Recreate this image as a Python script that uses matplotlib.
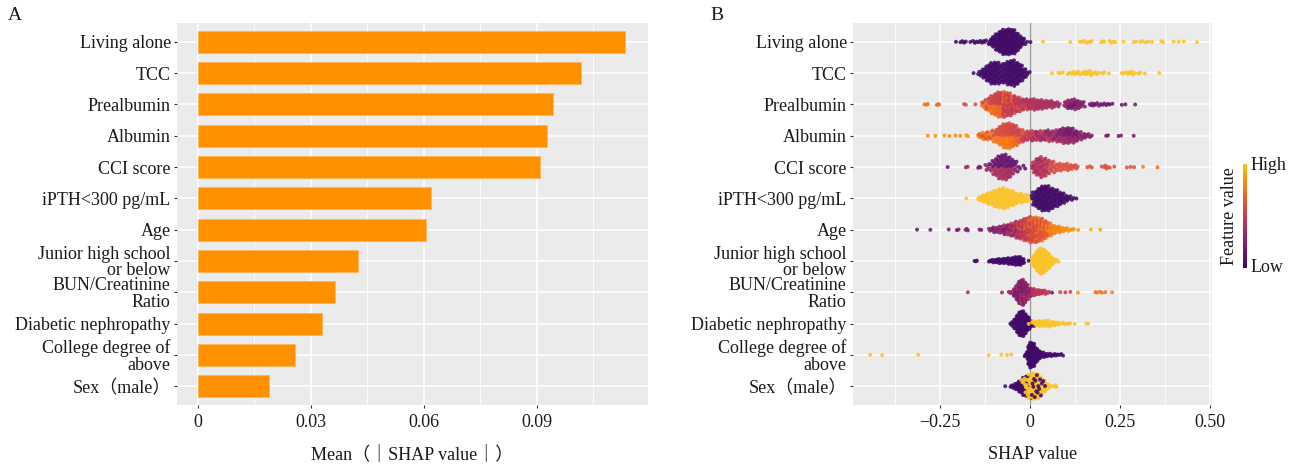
import numpy as np
import matplotlib
matplotlib.use("Agg")
import matplotlib.pyplot as plt
from matplotlib.colors import ListedColormap
from matplotlib.ticker import FixedLocator

# ---------------------------------------------------------------- data
features = ["Living alone", "TCC", "Prealbumin", "Albumin", "CCI score",
            "iPTH<300 pg/mL", "Age", "Junior high school\nor below",
            "BUN/Creatinine\nRatio", "Diabetic nephropathy",
            "College degree of\nabove", "Sex（male）"]

mean_abs_shap = [0.1135, 0.1016, 0.0943, 0.0926, 0.0908, 0.0620,
                 0.0606, 0.0425, 0.0364, 0.0329, 0.0257, 0.0190]

bar_ticks = [0, 0.03, 0.06, 0.09]
bar_tick_labels = ["0", "0.03", "0.06", "0.09"]
swarm_ticks = [-0.25, 0, 0.25, 0.50]
swarm_tick_labels = ["\u22120.25", "0", "0.25", "0.50"]

# SHAP values per feature, binned at 0.01: (SHAP value, number of patients, scaled feature value)
living_alone = [(-0.205, 1, 0), (-0.19, 2, 0), (-0.18, 2, 0), (-0.165, 1, 0), (-0.155, 2, 0),
                (-0.145, 2, 0), (-0.135, 2, 0), (-0.125, 3, 0), (-0.11, 5, 0), (-0.10, 10, 0),
                (-0.09, 14, 0), (-0.08, 18, 0), (-0.07, 20, 0), (-0.06, 20, 0), (-0.05, 20, 0),
                (-0.04, 18, 0), (-0.03, 12, 0), (-0.02, 7, 0), (-0.01, 2, 0), (0.002, 1, 0),
                (0.037, 1, 1), (0.113, 1, 1), (0.139, 1, 1), (0.148, 2, 1), (0.157, 1, 1),
                (0.165, 2, 1), (0.172, 1, 1), (0.201, 2, 1), (0.207, 1, 1), (0.224, 2, 1),
                (0.233, 1, 1), (0.238, 1, 1), (0.261, 1, 1), (0.289, 1, 1), (0.296, 1, 1),
                (0.310, 2, 1), (0.321, 1, 1), (0.329, 1, 1), (0.340, 1, 1), (0.368, 2, 1),
                (0.400, 1, 1), (0.414, 1, 1), (0.428, 1, 1), (0.465, 1, 1)]

tcc = [(-0.156, 1, 0), (-0.14, 3, 0), (-0.13, 6, 0), (-0.12, 10, 0), (-0.11, 14, 0),
       (-0.10, 16, 0), (-0.09, 15, 0), (-0.08, 12, 0), (-0.07, 13, 0), (-0.06, 16, 0),
       (-0.05, 18, 0), (-0.04, 17, 0), (-0.03, 14, 0), (-0.02, 10, 0), (-0.01, 5, 0),
       (0.0, 1, 0), (0.062, 1, 1), (0.082, 2, 1), (0.092, 1, 1), (0.108, 2, 1),
       (0.118, 2, 1), (0.128, 3, 1), (0.138, 2, 1), (0.15, 3, 1), (0.16, 3, 1),
       (0.17, 3, 1), (0.18, 2, 1), (0.19, 2, 1), (0.205, 2, 1), (0.22, 1, 1),
       (0.258, 2, 1), (0.27, 2, 1), (0.28, 3, 1), (0.29, 2, 1), (0.305, 2, 1),
       (0.32, 1, 1), (0.36, 1, 1)]

prealbumin = [(-0.29, 2, 0.76), (-0.283, 1, 0.74), (-0.255, 3, 0.72), (-0.18, 2, 0.6),
              (-0.151, 1, 0.6), (-0.13, 2, 0.74), (-0.13, 2, 0.58), (-0.12, 5, 0.74),
              (-0.12, 3, 0.56), (-0.11, 6, 0.72), (-0.11, 6, 0.55), (-0.10, 8, 0.72),
              (-0.10, 8, 0.54), (-0.09, 9, 0.7), (-0.09, 9, 0.52), (-0.08, 10, 0.7),
              (-0.08, 10, 0.5), (-0.07, 9, 0.68), (-0.07, 11, 0.5), (-0.06, 8, 0.66),
              (-0.06, 10, 0.48), (-0.05, 7, 0.64), (-0.05, 8, 0.46), (-0.04, 5, 0.6),
              (-0.04, 7, 0.45), (-0.03, 4, 0.6), (-0.03, 6, 0.44), (-0.02, 3, 0.55),
              (-0.02, 5, 0.42), (-0.01, 3, 0.5), (-0.01, 4, 0.4), (0.00, 8, 0.42),
              (0.01, 8, 0.42), (0.02, 8, 0.4), (0.03, 7, 0.4), (0.04, 6, 0.38),
              (0.05, 6, 0.4), (0.065, 1, 0.85), (0.06, 5, 0.36), (0.07, 4, 0.36),
              (0.08, 3, 0.34), (0.10, 5, 0.3), (0.11, 4, 0.3), (0.11, 4, 0.18),
              (0.12, 5, 0.3), (0.12, 4, 0.18), (0.13, 4, 0.3), (0.13, 4, 0.2),
              (0.14, 6, 0.26), (0.15, 3, 0.24), (0.17, 3, 0.2), (0.18, 3, 0.16),
              (0.19, 2, 0.2), (0.20, 2, 0.15), (0.21, 2, 0.18), (0.22, 2, 0.14),
              (0.23, 1, 0.16), (0.256, 1, 0.15), (0.266, 1, 0.15), (0.293, 1, 0.2)]

albumin = [(-0.283, 1, 0.85), (-0.262, 1, 0.85), (-0.237, 1, 0.85), (-0.223, 1, 0.8),
           (-0.206, 1, 0.8), (-0.193, 1, 0.8), (-0.174, 2, 0.88), (-0.14, 3, 0.78),
           (-0.14, 1, 0.6), (-0.13, 4, 0.8), (-0.13, 2, 0.62), (-0.12, 4, 0.76),
           (-0.12, 2, 0.6), (-0.11, 3, 0.78), (-0.11, 2, 0.6), (-0.10, 3, 0.76),
           (-0.10, 3, 0.6), (-0.09, 5, 0.76), (-0.09, 5, 0.6), (-0.08, 7, 0.76),
           (-0.08, 7, 0.58), (-0.07, 9, 0.76), (-0.07, 9, 0.58), (-0.06, 10, 0.78),
           (-0.06, 10, 0.58), (-0.05, 9, 0.74), (-0.05, 9, 0.56), (-0.04, 7, 0.7),
           (-0.04, 7, 0.55), (-0.03, 5, 0.66), (-0.03, 5, 0.52), (-0.02, 3, 0.6),
           (-0.02, 4, 0.5), (-0.01, 3, 0.55), (-0.01, 3, 0.45), (0.00, 6, 0.48),
           (0.01, 4, 0.5), (0.01, 3, 0.36), (0.02, 4, 0.46), (0.02, 3, 0.34),
           (0.03, 3, 0.46), (0.03, 3, 0.34), (0.04, 4, 0.44), (0.04, 3, 0.32),
           (0.05, 4, 0.44), (0.05, 4, 0.3), (0.06, 4, 0.42), (0.06, 3, 0.3),
           (0.07, 4, 0.4), (0.07, 3, 0.28), (0.08, 4, 0.36), (0.08, 4, 0.24),
           (0.09, 5, 0.36), (0.09, 5, 0.22), (0.10, 6, 0.34), (0.10, 6, 0.2),
           (0.11, 6, 0.32), (0.11, 6, 0.18), (0.12, 5, 0.3), (0.12, 5, 0.2),
           (0.13, 4, 0.3), (0.13, 4, 0.18), (0.14, 5, 0.28), (0.15, 4, 0.26),
           (0.16, 3, 0.24), (0.17, 2, 0.22), (0.215, 2, 0.18), (0.247, 1, 0.15),
           (0.254, 1, 0.25), (0.289, 1, 0.18)]

cci_score = [(-0.228, 1, 0.15), (-0.175, 2, 0.35), (-0.14, 3, 0.22), (-0.12, 3, 0.3),
             (-0.11, 2, 0.35), (-0.11, 2, 0.15), (-0.10, 4, 0.38), (-0.10, 4, 0.14),
             (-0.09, 6, 0.4), (-0.09, 6, 0.15), (-0.08, 8, 0.4), (-0.08, 8, 0.14),
             (-0.07, 8, 0.38), (-0.07, 8, 0.15), (-0.06, 7, 0.36), (-0.06, 7, 0.14),
             (-0.05, 5, 0.36), (-0.05, 5, 0.12), (-0.04, 3, 0.3), (-0.04, 3, 0.12),
             (-0.03, 3, 0.2), (-0.015, 2, 0.1), (0.01, 4, 0.46), (0.01, 2, 0.3),
             (0.02, 8, 0.46), (0.02, 4, 0.34), (0.03, 9, 0.48), (0.03, 5, 0.36),
             (0.04, 8, 0.48), (0.04, 4, 0.38), (0.05, 5, 0.52), (0.05, 3, 0.4),
             (0.06, 6, 0.55), (0.07, 5, 0.56), (0.08, 4, 0.6), (0.09, 4, 0.6),
             (0.10, 4, 0.62), (0.11, 4, 0.6), (0.12, 3, 0.62), (0.13, 3, 0.6),
             (0.16, 1, 0.6), (0.17, 2, 0.62), (0.20, 1, 0.62), (0.21, 3, 0.6),
             (0.22, 2, 0.62), (0.235, 1, 0.6), (0.27, 1, 0.62), (0.28, 1, 0.62),
             (0.29, 1, 0.6), (0.315, 1, 0.8), (0.355, 1, 0.72)]

ipth = [(-0.176, 1, 1), (-0.14, 3, 1), (-0.13, 5, 1), (-0.12, 7, 1), (-0.11, 8, 1),
        (-0.10, 10, 1), (-0.09, 12, 1), (-0.08, 14, 1), (-0.07, 14, 1), (-0.06, 12, 1),
        (-0.05, 10, 1), (-0.04, 8, 1), (-0.03, 6, 1), (-0.02, 6, 1), (-0.01, 5, 1),
        (0.00, 3, 1), (0.01, 8, 0), (0.02, 12, 0), (0.03, 16, 0), (0.04, 18, 0),
        (0.05, 17, 0), (0.06, 14, 0), (0.07, 12, 0), (0.08, 10, 0), (0.09, 8, 0),
        (0.10, 5, 0), (0.11, 3, 0), (0.12, 2, 0), (0.13, 1, 0)]

age = [(-0.313, 1, 0.12), (-0.276, 1, 0.15), (-0.225, 1, 0.2), (-0.20, 2, 0.2),
       (-0.175, 3, 0.22), (-0.137, 2, 0.2), (-0.11, 3, 0.25), (-0.10, 4, 0.2),
       (-0.09, 5, 0.28), (-0.08, 6, 0.3), (-0.07, 4, 0.36), (-0.07, 3, 0.18),
       (-0.06, 5, 0.4), (-0.06, 4, 0.22), (-0.05, 6, 0.46), (-0.05, 4, 0.28),
       (-0.04, 7, 0.5), (-0.04, 5, 0.32), (-0.03, 8, 0.55), (-0.03, 6, 0.38),
       (-0.02, 9, 0.6), (-0.02, 7, 0.42), (-0.01, 10, 0.64), (-0.01, 8, 0.46),
       (0.00, 11, 0.68), (0.00, 9, 0.52), (0.01, 11, 0.7), (0.01, 9, 0.55),
       (0.02, 11, 0.72), (0.02, 9, 0.58), (0.03, 10, 0.74), (0.03, 8, 0.6),
       (0.04, 9, 0.76), (0.04, 7, 0.62), (0.05, 7, 0.78), (0.05, 5, 0.64),
       (0.06, 9, 0.78), (0.07, 6, 0.8), (0.08, 5, 0.8), (0.09, 4, 0.82),
       (0.10, 3, 0.84), (0.11, 2, 0.85), (0.12, 2, 0.85), (0.135, 1, 0.87),
       (0.17, 1, 0.95), (0.196, 1, 0.9)]

junior_high = [(-0.15, 3, 0), (-0.11, 3, 0), (-0.10, 4, 0), (-0.09, 5, 0), (-0.08, 6, 0),
               (-0.07, 6, 0), (-0.06, 7, 0), (-0.05, 8, 0), (-0.04, 10, 0), (-0.03, 12, 0),
               (-0.02, 8, 0), (-0.003, 1, 0), (0.01, 10, 1), (0.02, 25, 1), (0.03, 35, 1),
               (0.04, 30, 1), (0.05, 20, 1), (0.06, 10, 1), (0.07, 4, 1), (0.08, 1, 1)]

bun_creatinine = [(-0.172, 1, 0.4), (-0.077, 1, 0.35), (-0.058, 1, 0.3), (-0.05, 3, 0.32),
                  (-0.04, 7, 0.36), (-0.04, 5, 0.2), (-0.03, 14, 0.36), (-0.03, 11, 0.22),
                  (-0.02, 16, 0.38), (-0.02, 14, 0.22), (-0.01, 12, 0.38), (-0.01, 10, 0.24),
                  (0.00, 6, 0.4), (0.00, 4, 0.26), (0.01, 8, 0.42), (0.02, 6, 0.44),
                  (0.03, 5, 0.45), (0.04, 4, 0.46), (0.05, 3, 0.48), (0.062, 1, 0.15),
                  (0.085, 1, 0.55), (0.099, 1, 0.5), (0.113, 1, 0.55), (0.134, 1, 0.85),
                  (0.185, 2, 0.75), (0.198, 2, 0.75), (0.21, 1, 0.72), (0.229, 1, 0.78)]

diabetic_nephropathy = [(-0.05, 4, 0), (-0.04, 12, 0), (-0.03, 25, 0), (-0.02, 30, 0),
                        (-0.01, 20, 0), (0.00, 8, 0), (0.01, 2, 0), (-0.003, 1, 1),
                        (0.01, 3, 1), (0.02, 5, 1), (0.03, 6, 1), (0.04, 6, 1), (0.05, 7, 1),
                        (0.06, 5, 1), (0.07, 4, 1), (0.08, 3, 1), (0.09, 2, 1), (0.10, 2, 1),
                        (0.11, 2, 1), (0.125, 1, 1), (0.16, 2, 1)]

college_degree = [(-0.443, 1, 1), (-0.41, 1, 1), (-0.31, 1, 1), (-0.114, 1, 1),
                  (-0.079, 1, 1), (-0.063, 1, 1), (-0.051, 1, 1), (-0.01, 5, 0),
                  (0.00, 30, 0), (0.01, 28, 0), (0.02, 15, 0), (0.03, 8, 0), (0.04, 5, 0),
                  (0.05, 4, 0), (0.06, 3, 0), (0.07, 3, 0), (0.08, 2, 0), (0.09, 2, 0)]

sex_male = [(-0.068, 1, 0), (-0.05, 3, 0), (-0.04, 6, 0), (-0.03, 10, 0), (-0.02, 14, 0),
            (-0.01, 12, 0), (0.00, 8, 0), (-0.02, 3, 1), (-0.01, 8, 1), (0.00, 16, 1),
            (0.01, 20, 1), (0.02, 20, 1), (0.03, 16, 1), (0.04, 10, 1), (0.05, 5, 1),
            (0.06, 1, 1), (0.071, 3, 1), (0.01, 5, 0), (0.02, 5, 0), (0.03, 4, 0),
            (0.04, 2, 0)]

swarm_rows = [living_alone, tcc, prealbumin, albumin, cci_score, ipth, age,
              junior_high, bun_creatinine, diabetic_nephropathy, college_degree, sex_male]

# ---------------------------------------------------------------- style
SERIF = ["Liberation Serif", "Noto Sans CJK SC", "DejaVu Sans"]
plt.rcParams["font.family"] = SERIF
TXT = "#1a1a1a"
PANEL_BG = "#EBEBEB"
BAR_COLOR = "#FF9000"
cmap = ListedColormap(plt.get_cmap("inferno")(np.linspace(0.2, 0.86, 256)))

BIN = 0.01


def expand(groups):
    """Turn binned (value, count, colour) records into individual points."""
    xs, cs = [], []
    for centre, n, fv in groups:
        if n == 1:
            xs.append(centre)
        else:
            xs.extend(centre + ((np.arange(n) + 0.5) / n - 0.5) * BIN)
        cs.extend([fv] * n)
    return np.asarray(xs, float), np.asarray(cs, float)


def van_der_corput(k):
    out, denom = 0.0, 1.0
    while k:
        denom *= 2.0
        k, r = divmod(k, 2)
        out += r / denom
    return out


def quasirandom_offsets(x, width=0.42, adjust=0.5):
    """Quasirandom vertical offsets scaled by the local density of x."""
    n = len(x)
    sd = x.std(ddof=1)
    q75, q25 = np.percentile(x, [75, 25])
    spread = min(sd, (q75 - q25) / 1.34) if q75 > q25 else sd
    bw = adjust * 0.9 * spread * n ** -0.2
    dens = np.exp(-0.5 * ((x[:, None] - x[None, :]) / bw) ** 2).sum(axis=1)
    dens /= dens.max()
    ranks = np.argsort(np.argsort(x, kind="stable"), kind="stable")
    q = np.array([van_der_corput(int(r) + 1) for r in ranks])
    return (q - 0.5) * 2.0 * width * dens


def style_axes(ax, major, minor, xlim, n):
    ax.set_facecolor(PANEL_BG)
    for sp in ax.spines.values():
        sp.set_visible(False)
    ax.set_xlim(*xlim)
    ax.set_ylim(-0.6, n - 0.4)
    ax.xaxis.set_major_locator(FixedLocator(major))
    ax.xaxis.set_minor_locator(FixedLocator(minor))
    ax.grid(which="major", axis="both", color="white", linewidth=1.1)
    ax.grid(which="minor", axis="x", color="white", linewidth=0.55)
    ax.set_axisbelow(True)
    ax.tick_params(axis="both", which="major", length=2.5, width=0.8,
                   color="#333333", labelcolor=TXT, labelsize=13, pad=2)
    ax.tick_params(axis="x", which="minor", length=0)
    ax.tick_params(axis="x", pad=4)


# ---------------------------------------------------------------- figure
W, H = 1303, 466
fig = plt.figure(figsize=(W / 100, H / 100), dpi=100)
top, bottom = 23, 405
axA = fig.add_axes([177 / W, 1 - bottom / H, (648 - 177) / W, (bottom - top) / H])
axB = fig.add_axes([853 / W, 1 - bottom / H, (1212 - 853) / W, (bottom - top) / H])

n = len(features)
ypos = np.arange(n)[::-1]

# Panel A: mean |SHAP| bars
style_axes(axA, bar_ticks, [0.015, 0.045, 0.075, 0.105], (-0.0055, 0.1195), n)
axA.barh(ypos, mean_abs_shap, height=0.7, color=BAR_COLOR,
         edgecolor="#FFB45A", linewidth=0.6, zorder=2)
axA.set_xticks(bar_ticks)
axA.set_xticklabels(bar_tick_labels)
axA.set_yticks(ypos)
axA.set_yticklabels(features, linespacing=0.95, ha="right")
axA.set_xlabel("Mean（｜SHAP value｜）", fontsize=13, color=TXT, labelpad=11)

# Panel B: beeswarm of SHAP values
style_axes(axB, swarm_ticks, [-0.375, -0.125, 0.125, 0.375], (-0.491, 0.5065), n)
axB.axvline(0, color="#9a9a9a", linewidth=1.0, zorder=1)
for y0, groups in zip(ypos, swarm_rows):
    xs, cs = expand(groups)
    offs = quasirandom_offsets(xs)
    axB.scatter(xs, y0 + offs, c=cs, cmap=cmap, vmin=0, vmax=1, s=8,
                linewidths=0, alpha=0.88, zorder=3)
axB.set_xticks(swarm_ticks)
axB.set_xticklabels(swarm_tick_labels)
axB.set_yticks(ypos)
axB.set_yticklabels(features, linespacing=0.95, ha="right")
axB.set_xlabel("SHAP value", fontsize=13, color=TXT, labelpad=11)

# colour key
cax = fig.add_axes([1243 / W, 1 - 268 / H, 4 / W, (268 - 164) / H])
cax.imshow(np.linspace(0, 1, 256)[:, None], aspect="auto", cmap=cmap, origin="lower")
cax.set_axis_off()
fig.text(1251 / W, 1 - 166 / H, "High", fontsize=13, color=TXT, va="center", ha="left")
fig.text(1251 / W, 1 - 267 / H, "Low", fontsize=13, color=TXT, va="center", ha="left")
fig.text(1229 / W, 1 - 216 / H, "Feature value", fontsize=13, color=TXT,
         rotation=90, va="center", ha="center")

# panel letters
fig.text(8 / W, 1 - 15 / H, "A", fontsize=14, color=TXT, va="center", ha="left")
fig.text(710 / W, 1 - 15 / H, "B", fontsize=14, color=TXT, va="center", ha="left")

fig.savefig("out.png", dpi=100)
